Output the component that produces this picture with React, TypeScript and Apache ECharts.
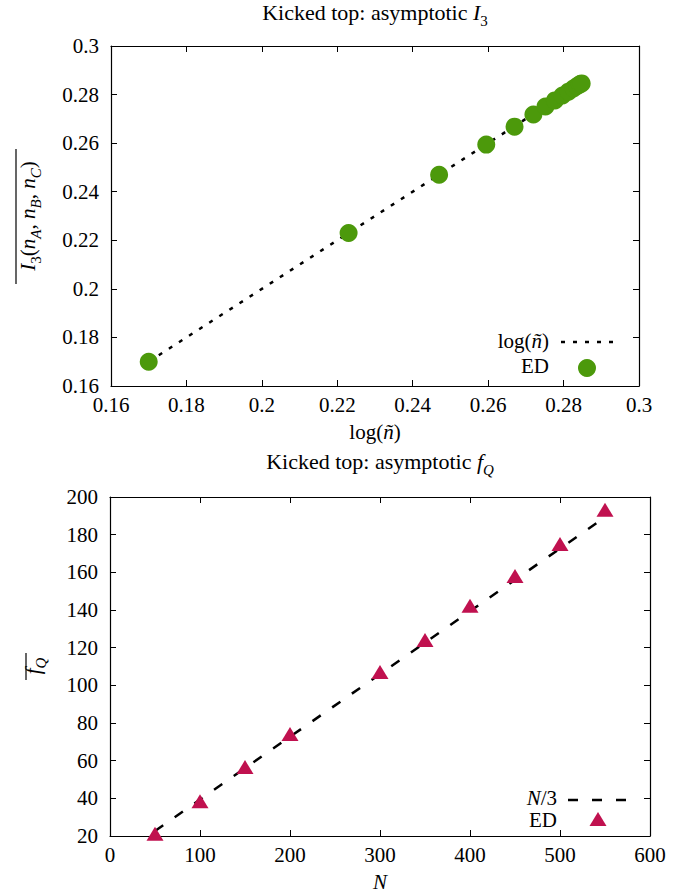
import React, { useEffect, useRef } from "react";
import * as echarts from "echarts";

// ---- Top panel data (Kicked top: asymptotic I3) ----
const edLogN = [0.170, 0.223, 0.247, 0.2595, 0.267, 0.272, 0.2752, 0.2777, 0.2797, 0.2813, 0.2826, 0.2836, 0.2843, 0.2848];
const edI3 = [0.170, 0.223, 0.247, 0.2594, 0.2668, 0.2718, 0.2751, 0.2776, 0.2796, 0.2812, 0.2825, 0.2835, 0.2842, 0.2846];
const fitLogN = [0.17, 0.285];
const fitI3 = [0.17, 0.285];

// ---- Bottom panel data (Kicked top: asymptotic fQ) ----
const edN = [50, 100, 150, 200, 300, 350, 400, 450, 500, 550];
const edFQ = [21.2, 38.5, 56.6, 74.1, 107.1, 124.1, 142.2, 158.1, 175.1, 193.2];
const fitN = [50, 550];
const fitFQ = [22.7, 189.3];

const SERIF = "Liberation Serif";
const GREEN = "#4c990b";
const CRIMSON = "#c0114f";

const zip = (a: number[], b: number[]) => a.map((v, i) => [v, b[i]]);

const mainTok = { fontFamily: SERIF, fontSize: 21, lineHeight: 21, padding: [0, 0, 5, 0], verticalAlign: "bottom", color: "#000" };
const itTok = { ...mainTok, fontStyle: "italic" };
const subTok = { fontFamily: SERIF, fontSize: 15, lineHeight: 15, verticalAlign: "bottom", color: "#000" };
const subItTok = { ...subTok, fontStyle: "italic" };
const titleTok = { ...mainTok, fontSize: 22, lineHeight: 22 };
const titleItTok = { ...titleTok, fontStyle: "italic" };
const plainTok = { fontFamily: SERIF, fontSize: 21, lineHeight: 20, color: "#000" };
const plainItTok = { ...plainTok, fontStyle: "italic" };
const rich = { m: mainTok, i: itTok, s: subTok, si: subItTok, t: titleTok, ti: titleItTok, p: plainTok, pi: plainItTok };

function richText(x: number, y: number, text: string, extra: any = {}) {
  return {
    type: "text",
    x,
    y,
    ...extra,
    style: {
      text,
      rich,
      fontFamily: SERIF,
      fontSize: 21,
      fill: "#000",
      align: extra.align || "center",
      verticalAlign: "middle",
    },
  };
}

function valueAxis(gridIndex: number, position: string, min: number, max: number, interval: number, showLabel: boolean, fmt?: (v: number) => string) {
  return {
    type: "value",
    gridIndex,
    position,
    min,
    max,
    interval,
    axisLine: { show: true, onZero: false, lineStyle: { color: "#000", width: 1.2 } },
    axisTick: { show: true, inside: true, length: 6, lineStyle: { color: "#000", width: 1 } },
    axisLabel: {
      show: showLabel,
      fontFamily: SERIF,
      fontSize: 21,
      color: "#000",
      margin: position === "left" ? 12 : 8,
      formatter: fmt,
      showMinLabel: true,
      showMaxLabel: true,
    },
    splitLine: { show: false },
  };
}

const fmt2 = (v: number) => String(parseFloat(v.toFixed(2)));
const fmt0 = (v: number) => String(Math.round(v));

export default function App() {
  const ref = useRef<HTMLDivElement>(null);
  useEffect(() => {
    if (!ref.current) return;
    const chart = echarts.init(ref.current, null, { renderer: "svg" });
    const option: any = {
      animation: false,
      backgroundColor: "#fff",
      textStyle: { fontFamily: SERIF },
      grid: [
        { left: 111, top: 46, width: 528, height: 340 },
        { left: 110, top: 497, width: 540, height: 339 },
      ],
      xAxis: [
        valueAxis(0, "bottom", 0.16, 0.3, 0.02, true, fmt2),
        valueAxis(0, "top", 0.16, 0.3, 0.02, false),
        valueAxis(1, "bottom", 0, 600, 100, true, fmt0),
        valueAxis(1, "top", 0, 600, 100, false),
      ],
      yAxis: [
        valueAxis(0, "left", 0.16, 0.3, 0.02, true, fmt2),
        valueAxis(0, "right", 0.16, 0.3, 0.02, false),
        valueAxis(1, "left", 20, 200, 20, true, fmt0),
        valueAxis(1, "right", 20, 200, 20, false),
      ],
      series: [
        {
          type: "line",
          xAxisIndex: 0,
          yAxisIndex: 0,
          data: zip(fitLogN, fitI3),
          showSymbol: false,
          symbol: "none",
          lineStyle: { color: "#000", width: 2.5, type: [4, 8] },
          z: 2,
        },
        {
          type: "scatter",
          xAxisIndex: 0,
          yAxisIndex: 0,
          data: zip(edLogN, edI3),
          symbol: "circle",
          symbolSize: 18,
          itemStyle: { color: GREEN, opacity: 1 },
          z: 3,
        },
        {
          type: "line",
          xAxisIndex: 2,
          yAxisIndex: 2,
          data: zip(fitN, fitFQ),
          showSymbol: false,
          symbol: "none",
          lineStyle: { color: "#000", width: 2.5, type: [10, 14] },
          z: 2,
        },
        {
          type: "scatter",
          xAxisIndex: 2,
          yAxisIndex: 2,
          data: zip(edN, edFQ),
          symbol: "triangle",
          symbolSize: [17, 14],
          itemStyle: { color: CRIMSON, opacity: 1 },
          z: 3,
        },
      ],
      graphic: [
        // titles
        richText(375, 17, "{t|Kicked top: asymptotic }{ti|I}{s|3}"),
        richText(380, 466, "{t|Kicked top: asymptotic }{ti|f}{si|Q}"),
        // x-axis names
        richText(375, 432, "{p|log(}{pi|ñ}{p|)}"),
        richText(380, 882, "{pi|N}"),
        // y-axis names (rotated)
        richText(33, 216, "{i|I}{s|3}{m|(}{i|n}{si|A}{m|, }{i|n}{si|B}{m|, }{i|n}{si|C}{m|)}", { rotation: Math.PI / 2 }),
        richText(38, 666, "{i|f}{si|Q}", { rotation: Math.PI / 2 }),
        { type: "line", shape: { x1: 16, y1: 149, x2: 16, y2: 284 }, style: { stroke: "#000", lineWidth: 1.2 } },
        { type: "line", shape: { x1: 26, y1: 653, x2: 26, y2: 680 }, style: { stroke: "#000", lineWidth: 1.2 } },
        // legend top
        richText(549, 341, "{p|log(}{pi|ñ}{p|)}", { align: "right" }),
        { type: "line", shape: { x1: 561, y1: 342, x2: 617, y2: 342 }, style: { stroke: "#000", lineWidth: 2.5, lineDash: [4, 8] } },
        richText(549, 366, "{p|ED}", { align: "right" }),
        { type: "circle", shape: { cx: 587, cy: 368, r: 9 }, style: { fill: GREEN } },
        // legend bottom
        richText(557, 798, "{pi|N}{p|/3}", { align: "right" }),
        { type: "line", shape: { x1: 568, y1: 800, x2: 627, y2: 800 }, style: { stroke: "#000", lineWidth: 2.5, lineDash: [10, 14] } },
        richText(557, 820, "{p|ED}", { align: "right" }),
        { type: "polygon", shape: { points: [[598, 812], [606.5, 826], [589.5, 826]] }, style: { fill: CRIMSON } },
      ],
    };
    chart.setOption(option);
    return () => chart.dispose();
  }, []);
  return <div ref={ref} style={{ position: "absolute", left: 0, top: 0, width: 690, height: 896 }} />;
}
